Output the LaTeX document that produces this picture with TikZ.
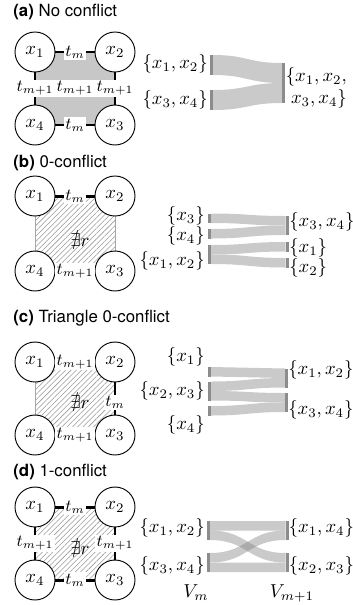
\documentclass[tikz,border=0pt]{standalone}
\usepackage{amssymb}
\usepackage{fontspec}
\setsansfont{TeX Gyre Heros}
\usetikzlibrary{patterns.meta,backgrounds}
\newcommand{\sankeyband}[6]{%
  \fill[flow] (#1,#3) .. controls ({(#1+#2)/2},#3) and ({(#1+#2)/2},#5) .. (#2,#5)
    -- (#2,#6) .. controls ({(#1+#2)/2},#6) and ({(#1+#2)/2},#4) .. (#1,#4) -- cycle;}
\begin{document}
\begin{tikzpicture}[x=0.535pt,y=-0.535pt,
  vtx/.style={circle, draw, fill=white, minimum size=21.4pt, inner sep=0pt, line width=0.5pt},
  tk/.style={line width=1.6pt},
  tlab/.style={fill=white, inner sep=0.8pt, font=\small},
  ptitle/.style={anchor=west, inner sep=0pt, font=\sffamily\fontsize{9}{11}\selectfont},
  bar/.style={fill=black!45},
  flow/.style={fill=black!50, fill opacity=0.42},
  solid gray/.style={fill=black!22},
  hatch/.style={pattern={Lines[angle=45,distance=2pt,line width=0.3pt]}, pattern color=black!40, draw=black!35, line width=0.4pt},
  setl/.style={inner sep=0.5pt},
]
\useasboundingbox (0,0) rectangle (352,605);

% ================= (a) =================
\node[ptitle] (ta) at (13,12) {\textbf{(a)} No conflict};
\node[vtx] (a1) at (35,52) {$x_1$};
\node[vtx] (a2) at (115,52) {$x_2$};
\node[vtx] (a4) at (35,125) {$x_4$};
\node[vtx] (a3) at (115,125) {$x_3$};
\begin{scope}[on background layer]
  \fill[solid gray] (a1.center) rectangle (a3.center);
\end{scope}
\draw[tk] (a1) -- (a2) node[midway, tlab] {$t_m$};
\draw[tk] (a4) -- (a3) node[midway, tlab] {$t_m$};
\draw[tk] (a1) -- (a4) node[midway, tlab] {$t_{m+1}$};
\draw[tk] (a2) -- (a3) node[midway, tlab] {$t_{m+1}$};
\node[tlab] (ac) at (75,88.5) {$t_{m+1}$};

\sankeyband{213}{282}{55}{75}{63}{83}
\sankeyband{213}{282}{90}{110}{83}{103}
\fill[bar] (210,55) rectangle (213,75);
\fill[bar] (210,90) rectangle (213,110);
\fill[bar] (282,63) rectangle (284.5,103);
\node[setl, anchor=east] (la1) at (209,64) {$\{x_1, x_2\}$};
\node[setl, anchor=east] (la2) at (209,100) {$\{x_3, x_4\}$};
\node[setl, anchor=west, align=right] (ra1) at (284.5,88) {$\{x_1, x_2,$\\$x_3, x_4\}$};

% ================= (b) =================
\node[ptitle] (tb) at (13,163) {\textbf{(b)} 0-conflict};
\node[vtx] (b1) at (35,196) {$x_1$};
\node[vtx] (b2) at (115,196) {$x_2$};
\node[vtx] (b4) at (35,271) {$x_4$};
\node[vtx] (b3) at (115,271) {$x_3$};
\begin{scope}[on background layer]
  \draw[hatch] (b1.center) rectangle (b3.center);
\end{scope}
\draw[tk] (b1) -- (b2) node[midway, tlab] {$t_m$};
\draw[tk] (b4) -- (b3) node[midway, tlab] {$t_{m+1}$};
\node[inner sep=1pt] (bc) at (80,240) {$\nexists r$};

\sankeyband{211}{285.5}{213.5}{223}{216}{225.5}
\sankeyband{211}{285.5}{229}{238.5}{225.5}{235}
\sankeyband{211}{285.5}{245}{254.5}{242}{251.5}
\sankeyband{211}{285.5}{254.5}{264}{258}{267.5}
\fill[bar] (207.5,213.5) rectangle (211,223);
\fill[bar] (207.5,229) rectangle (211,238.5);
\fill[bar] (207.5,245) rectangle (211,264);
\fill[bar] (285.5,216) rectangle (288.5,235);
\fill[bar] (285.5,242) rectangle (288.5,251.5);
\fill[bar] (285.5,258) rectangle (288.5,267.5);
\node[setl, anchor=east] (lb1) at (206,216) {$\{x_3\}$};
\node[setl, anchor=east] (lb2) at (206,236) {$\{x_4\}$};
\node[setl, anchor=east] (lb3) at (206,261) {$\{x_1, x_2\}$};
\node[setl, anchor=west] (rb1) at (288,222) {$\{x_3, x_4\}$};
\node[setl, anchor=west] (rb2) at (288,248) {$\{x_1\}$};
\node[setl, anchor=west] (rb3) at (288,268) {$\{x_2\}$};

% ================= (c) =================
\node[ptitle] (tc) at (13,318) {\textbf{(c)} Triangle 0-conflict};
\node[vtx] (c1) at (35,362) {$x_1$};
\node[vtx] (c2) at (115,362) {$x_2$};
\node[vtx] (c4) at (35,435) {$x_4$};
\node[vtx] (c3) at (115,435) {$x_3$};
\begin{scope}[on background layer]
  \draw[hatch] (c1.center) rectangle (c3.center);
\end{scope}
\draw[tk] (c1) -- (c2) node[midway, tlab] {$t_{m+1}$};
\draw[tk] (c4) -- (c3) node[midway, tlab] {$t_{m+1}$};
\draw[tk] (c2) -- (c3) node[midway, tlab, yshift=-2pt] {$t_m$};
\node[inner sep=1pt] (cc) at (80,402) {$\nexists r$};

\sankeyband{211}{285}{367}{376.5}{368.5}{378}
\sankeyband{211}{285}{381.5}{391}{378}{387.5}
\sankeyband{211}{285}{391}{400.5}{393}{402.5}
\sankeyband{211}{285}{406}{415.5}{402.5}{412}
\fill[bar] (207.5,367) rectangle (211,376.5);
\fill[bar] (207.5,381.5) rectangle (211,400.5);
\fill[bar] (207.5,406) rectangle (211,415.5);
\fill[bar] (285,368.5) rectangle (288,387.5);
\fill[bar] (285,393) rectangle (288,412);
\node[setl, anchor=east] (lc1) at (206,357) {$\{x_1\}$};
\node[setl, anchor=east] (lc2) at (206,391) {$\{x_2, x_3\}$};
\node[setl, anchor=east] (lc3) at (206,425) {$\{x_4\}$};
\node[setl, anchor=west] (rc1) at (287,370) {$\{x_1, x_2\}$};
\node[setl, anchor=west] (rc2) at (287,410) {$\{x_3, x_4\}$};

% ================= (d) =================
\node[ptitle] (td) at (13,472) {\textbf{(d)} 1-conflict};
\node[vtx] (d1) at (35,507) {$x_1$};
\node[vtx] (d2) at (115,507) {$x_2$};
\node[vtx] (d4) at (35,580) {$x_4$};
\node[vtx] (d3) at (115,580) {$x_3$};
\begin{scope}[on background layer]
  \draw[hatch] (d1.center) rectangle (d3.center);
\end{scope}
\draw[tk] (d1) -- (d2) node[midway, tlab] {$t_m$};
\draw[tk] (d4) -- (d3) node[midway, tlab] {$t_m$};
\draw[tk] (d1) -- (d4) node[midway, tlab] {$t_{m+1}$};
\draw[tk] (d2) -- (d3) node[midway, tlab] {$t_{m+1}$};
\node[inner sep=1pt] (dc) at (80,548) {$\nexists r$};

\sankeyband{210}{285.5}{521}{530.5}{521}{530.5}
\sankeyband{210}{285.5}{530.5}{540}{553}{562.5}
\sankeyband{210}{285.5}{553}{562.5}{530.5}{540}
\sankeyband{210}{285.5}{562.5}{572}{562.5}{572}
\fill[bar] (207,521) rectangle (210,540);
\fill[bar] (207,553) rectangle (210,572);
\fill[bar] (285.5,521) rectangle (288.5,540);
\fill[bar] (285.5,553) rectangle (288.5,572);
\node[setl, anchor=east] (ld1) at (206,528) {$\{x_1, x_2\}$};
\node[setl, anchor=east] (ld2) at (206,566) {$\{x_3, x_4\}$};
\node[setl, anchor=west] (rd1) at (287.5,528) {$\{x_1, x_4\}$};
\node[setl, anchor=west] (rd2) at (287.5,566) {$\{x_2, x_3\}$};
\node (vm) at (196,593) {$V_m$};
\node (vm1) at (292,593) {$V_{m+1}$};
\end{tikzpicture}
\end{document}
